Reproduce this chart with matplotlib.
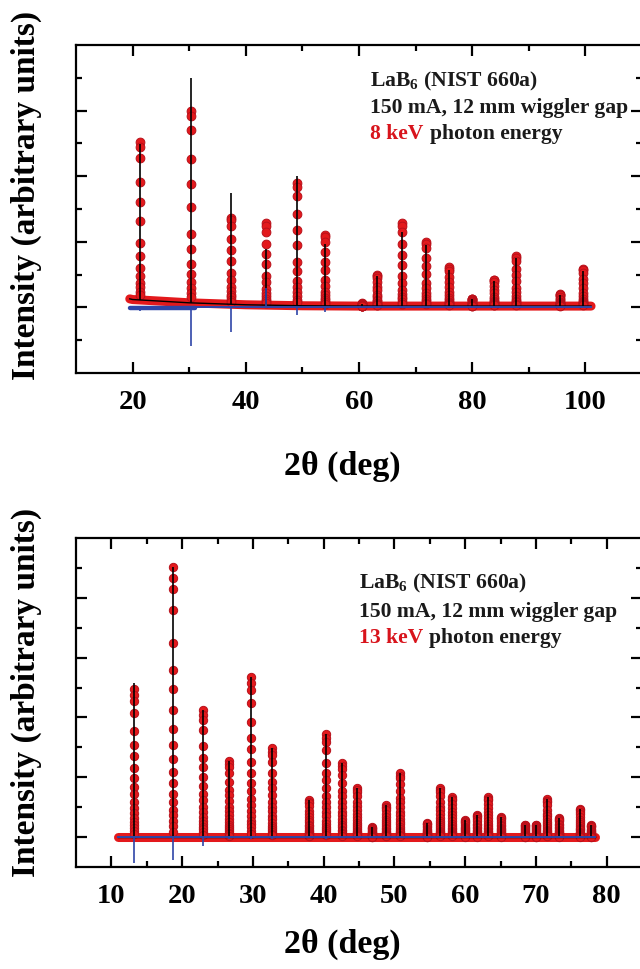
import matplotlib
matplotlib.use("Agg")
import matplotlib.pyplot as plt
import numpy as np

plt.rcParams["font.family"] = ["Liberation Serif", "DejaVu Serif"]
plt.rcParams["font.weight"] = "bold"
plt.rcParams["mathtext.fontset"] = "custom"
plt.rcParams["mathtext.rm"] = "Liberation Serif:bold"
plt.rcParams["mathtext.bf"] = "Liberation Serif:bold"

# ---- 8 keV pattern (top) ----
top_range = [19.5, 101.0]
top_noisy = [19.5, 31.0]   # stretch where the difference curve is visibly noisy
top_bg_x = [19.5, 20.0, 25.0, 30.0, 35.0, 40.0, 50.0, 60.0, 101.0]
top_bg_y = [0.26, 0.24, 0.19, 0.14, 0.11, 0.08, 0.05, 0.04, 0.04]
top_pos = [21.36, 30.38, 37.44, 43.50, 48.96, 53.99, 60.6, 63.22, 67.55,
           71.75, 75.85, 79.88, 83.87, 87.80, 95.60, 99.60]
top_obs = [5.03, 6.00, 2.74, 2.56, 3.78, 2.22, 0.12, 1.00, 2.56,
           2.00, 1.22, 0.27, 0.85, 1.56, 0.40, 1.16]
top_calc = [4.97, 6.98, 3.50, 1.77, 4.00, 1.92, 0.10, 0.95, 2.30,
            1.90, 1.15, 0.25, 0.80, 1.50, 0.38, 1.10]
top_diff = [-0.10, -1.19, -0.76, 0.60, -0.24, -0.15, 0.0, 0.0, 0.0,
            0.0, 0.0, 0.0, 0.0, 0.0, 0.0, 0.0]
top_levels = [1.0, 0.97, 0.90, 0.75, 0.62, 0.50, 0.36, 0.28, 0.20,
              0.15, 0.11, 0.08, 0.05, 0.03]

# ---- 13 keV pattern (bottom) ----
bot_range = [11.0, 78.3]
bot_noisy = [11.0, 11.0]
bot_bg_x = [11.0, 78.3]
bot_bg_y = [0.0, 0.0]
bot_pos = [13.17, 18.72, 22.97, 26.56, 29.74, 32.65, 37.96, 40.30, 42.55,
           44.70, 46.80, 48.80, 50.80, 54.60, 56.40, 58.20, 60.00, 61.70,
           63.30, 65.00, 68.40, 70.00, 71.60, 73.20, 76.30, 77.80]
bot_obs = [4.94, 9.03, 4.25, 2.54, 5.35, 2.97, 1.23, 3.46, 2.49,
           1.65, 0.33, 1.06, 2.13, 0.46, 1.63, 1.33, 0.56, 0.73,
           1.33, 0.66, 0.42, 0.42, 1.26, 0.63, 0.93, 0.39]
bot_calc = [5.16, 9.03, 4.25, 2.54, 5.35, 2.97, 1.23, 3.46, 2.49,
            1.65, 0.33, 1.06, 2.13, 0.46, 1.63, 1.33, 0.56, 0.73,
            1.33, 0.66, 0.42, 0.42, 1.26, 0.63, 0.93, 0.39]
bot_diff = [-0.86, -0.78, -0.30, -0.05, -0.05, -0.05, 0.0, -0.05, 0.0,
            0.0, 0.0, 0.0, 0.0, 0.0, 0.0, 0.0, 0.0, 0.0,
            0.0, 0.0, 0.0, 0.0, 0.0, 0.0, 0.0, 0.0]
bot_levels = [1.0, 0.96, 0.92, 0.84, 0.72, 0.62, 0.55, 0.47, 0.40, 0.34,
              0.29, 0.24, 0.20, 0.16, 0.13, 0.10, 0.08, 0.06, 0.04, 0.02]

RED = "#e3191c"
RED_EDGE = "#b8101a"
BLUE = "#2f46a8"

W, H = 640, 969
fig = plt.figure(figsize=(W / 100, H / 100), dpi=100)


def px_axes(left, top, right, bottom):
    return fig.add_axes([left / W, 1 - bottom / H, (right - left) / W, (bottom - top) / H])


def draw_panel(ax, xr, noisy, bgx, bgy, pos, obs, calc, diff, levels, ms):
    bg_at = np.interp(pos, bgx, bgy)
    # observed points: baseline band + columns of points on each peak
    ax.plot(bgx, bgy, color=RED, lw=6.5, solid_capstyle="round", zorder=2)
    for p, b, h in zip(pos, bg_at, obs):
        ys = [b + (h - b) * f for f in levels]
        ax.plot([p] * len(ys), ys, "o", ms=ms, mfc=RED, mec=RED_EDGE, mew=0.7,
                zorder=3, clip_on=False)
    # calculated profile
    ax.plot(bgx, bgy, color="black", lw=1.0, zorder=4)
    ax.vlines(pos, bg_at, calc, color="black", lw=1.2, zorder=4)
    # difference curve
    ax.plot(xr, [0, 0], color=BLUE, lw=1.4, zorder=5)
    if noisy[1] > noisy[0]:
        ax.plot(noisy, [-0.02, -0.02], color=BLUE, lw=3.2, solid_capstyle="round", zorder=5)
    ax.vlines(pos, 0, diff, color=BLUE, lw=1.2, zorder=5)


def style(ax, xlim, ylim, xmaj, xmin, ymaj, ymin):
    ax.set_xlim(xlim)
    ax.set_ylim(ylim)
    ax.set_xticks(xmaj)
    ax.set_xticks(xmin, minor=True)
    ax.set_yticks(ymaj)
    ax.set_yticks(ymin, minor=True)
    ax.set_yticklabels([])
    for s in ax.spines.values():
        s.set_linewidth(1.6)
    ax.tick_params(which="both", direction="in", top=True, right=True, width=1.6)
    ax.tick_params(which="major", length=8)
    ax.tick_params(which="minor", length=4.5)
    ax.tick_params(axis="x", labelsize=20.5, pad=12)
    for t in ax.get_xticklabels():
        t.set_fontweight("bold")


ax1 = px_axes(76, 45, 642, 373)
draw_panel(ax1, top_range, top_noisy, top_bg_x, top_bg_y, top_pos, top_obs, top_calc,
           top_diff, top_levels, 6.3)
style(ax1, (10, 110), (-2, 8), [20, 40, 60, 80, 100], [30, 50, 70, 90],
      [0, 2, 4, 6], [-1, 1, 3, 5, 7])

ax2 = px_axes(76, 538, 642, 867)
draw_panel(ax2, bot_range, bot_noisy, bot_bg_x, bot_bg_y, bot_pos, bot_obs, bot_calc,
           bot_diff, bot_levels, 6.0)
style(ax2, (5, 85), (-1, 10), list(range(10, 81, 10)), list(range(15, 80, 10)),
      [0, 2, 4, 6, 8], [1, 3, 5, 7, 9])

for ax, x0, ys, energy in [(ax1, 370, (86, 113, 139), "8 keV"),
                           (ax2, 359, (588, 617, 643), "13 keV")]:
    bb = ax.get_position()
    def to_ax(px, py):
        return ((px / W - bb.x0) / bb.width, ((1 - py / H) - bb.y0) / bb.height)
    fs = 15.6
    ax.text(*to_ax(x0, ys[0]), r"LaB$_{6}$ (NIST 660a)", transform=ax.transAxes,
            fontsize=fs, fontweight="bold", va="baseline", ha="left", color="#1a1a1a")
    ax.text(*to_ax(x0, ys[1]), "150 mA, 12 mm wiggler gap", transform=ax.transAxes,
            fontsize=fs, fontweight="bold", va="baseline", ha="left", color="#1a1a1a")
    t = ax.text(*to_ax(x0, ys[2]), energy, transform=ax.transAxes,
                fontsize=fs, fontweight="bold", va="baseline", ha="left", color="#d8141c")
    ax.annotate("photon energy", xy=(1, to_ax(x0, ys[2])[1]), xycoords=(t, "axes fraction"),
                xytext=(4.5, 0), textcoords="offset points",
                fontsize=fs, fontweight="bold", va="baseline", ha="left", color="#1a1a1a")

# axis labels
for yc, ylab in [(195, 466), (692, 944)]:
    fig.text(26 / W, 1 - yc / H, "Intensity (arbitrary units)", rotation=90,
             fontsize=24, fontweight="bold", ha="center", va="center")
    fig.text(342 / W, 1 - ylab / H, "2θ (deg)", fontsize=24.5, fontweight="bold",
             ha="center", va="center")

fig.savefig("out.png", dpi=100)
